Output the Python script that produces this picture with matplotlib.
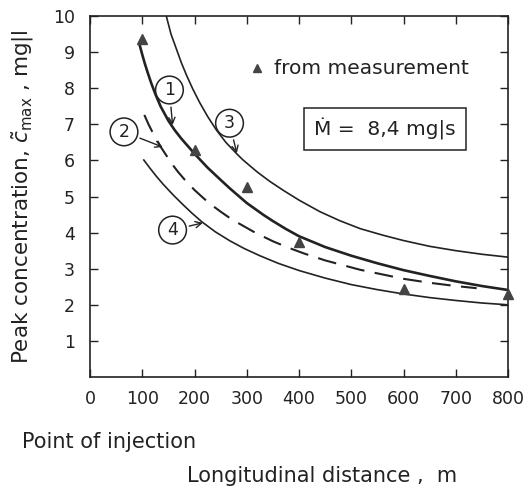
import numpy as np
import matplotlib.pyplot as plt

# curve 1 (thick solid)
x1 = [95, 100, 105, 110, 117, 125, 135, 150, 162, 175, 201, 225, 250, 268, 300, 332, 350,
      375, 400, 450, 500, 550, 600, 650, 700, 750, 800]
c1 = [9.2, 8.93, 8.68, 8.45, 8.15, 7.84, 7.5, 7.1, 6.84, 6.6, 6.17, 5.8, 5.46, 5.22, 4.82, 4.49, 4.32,
      4.1, 3.9, 3.6, 3.36, 3.15, 2.96, 2.8, 2.65, 2.52, 2.41]
# curve 2 (dashed)
x2 = [104, 112, 120, 136, 156, 168, 181, 200, 219, 236, 250, 265, 283, 316, 350, 380, 410,
      450, 517, 600, 650, 700, 740]
c2 = [7.26, 7.0, 6.77, 6.36, 5.92, 5.69, 5.47, 5.18, 4.93, 4.73, 4.58, 4.43, 4.27, 4.0, 3.76, 3.58, 3.42,
      3.23, 2.97, 2.72, 2.61, 2.52, 2.46]
# curve 3 (upper solid)
x3 = [146, 155, 165, 175, 185, 197, 210, 225, 242, 260, 281, 293, 320, 344, 370, 400, 440,
      478, 517, 560, 600, 650, 700, 750, 800]
c3 = [10.0, 9.5, 9.1, 8.7, 8.35, 7.97, 7.6, 7.22, 6.84, 6.5, 6.18, 6.01, 5.68, 5.42, 5.17, 4.9, 4.58,
      4.33, 4.11, 3.93, 3.78, 3.62, 3.5, 3.4, 3.32]
# curve 4 (lower solid)
x4 = [103, 115, 127, 140, 160, 179, 195, 214, 240, 268, 295, 325, 360, 400, 450, 500, 550,
      600, 650, 700, 750, 800]
c4 = [6.01, 5.78, 5.56, 5.34, 5.03, 4.76, 4.54, 4.3, 4.02, 3.77, 3.56, 3.36, 3.15, 2.95, 2.74, 2.56, 2.42,
      2.3, 2.2, 2.12, 2.05, 2.0]
# measurements
xm = [100, 200, 300, 400, 600, 800]
cm = [9.35, 6.3, 5.25, 3.75, 2.45, 2.3]

xticks = [0, 100, 200, 300, 400, 500, 600, 700, 800]
yticks = [1, 2, 3, 4, 5, 6, 7, 8, 9, 10]

ink = '#222222'

fig = plt.figure(figsize=(5.29, 4.88), dpi=100)
ax = fig.add_axes([90/529, 1-377/488, 418/529, 361/488])

ax.plot(x1, c1, color=ink, lw=1.9)
ax.plot(x2, c2, color=ink, lw=1.5, dashes=(9, 5))
ax.plot(x3, c3, color=ink, lw=1.2)
ax.plot(x4, c4, color=ink, lw=1.2)
ax.plot(xm, cm, '^', color='#444444', ms=7, clip_on=False, zorder=5)

ax.set_xlim(0, 800)
ax.set_ylim(0, 10)
ax.set_xticks(xticks)
ax.set_yticks(yticks)
ax.tick_params(direction='in', top=True, right=True, length=6, width=1,
               labelsize=12.5, colors=ink, pad=9)
ax.tick_params(axis='y', pad=11)
for s in ax.spines.values():
    s.set_linewidth(1.2)
    s.set_color(ink)

ax.set_ylabel(r'Peak concentration, $\tilde{c}_{\mathrm{max}}$ , mg|l', fontsize=15.5, color=ink)
ax.yaxis.set_label_coords(-0.13, 0.5)

# legend-like text
ax.plot([319], [8.56], '^', color='#444444', ms=6)
ax.text(352, 8.55, 'from measurement', fontsize=14.5, va='center', color=ink)
ax.text(565, 6.88, 'Ṁ =  8,4 mg|s', fontsize=14.5, va='center', ha='center', color=ink,
        bbox=dict(boxstyle='square,pad=0.5', fc='white', ec=ink, lw=1.1))

# circled curve numbers
labels = [('1', (152, 7.95), (158, 6.98)),
          ('2', (65, 6.79), (139, 6.37)),
          ('3', (267, 7.03), (281, 6.2)),
          ('4', (158, 4.07), (216, 4.27))]
for num, pos, tip in labels:
    ax.annotate(num, xy=tip, xytext=pos, fontsize=12.5, ha='center', va='center', color=ink,
                bbox=dict(boxstyle='circle,pad=0.28', fc='white', ec=ink, lw=1.1),
                arrowprops=dict(arrowstyle='->,head_length=0.35,head_width=0.18',
                                color=ink, lw=1.0, shrinkB=0))

fig.text(22/529, 1-448/488, 'Point of injection', fontsize=15, va='baseline', color=ink)
fig.text(187/529, 1-482/488, 'Longitudinal distance ,  m', fontsize=15, va='baseline', color=ink)

fig.savefig('out.png', dpi=100)
